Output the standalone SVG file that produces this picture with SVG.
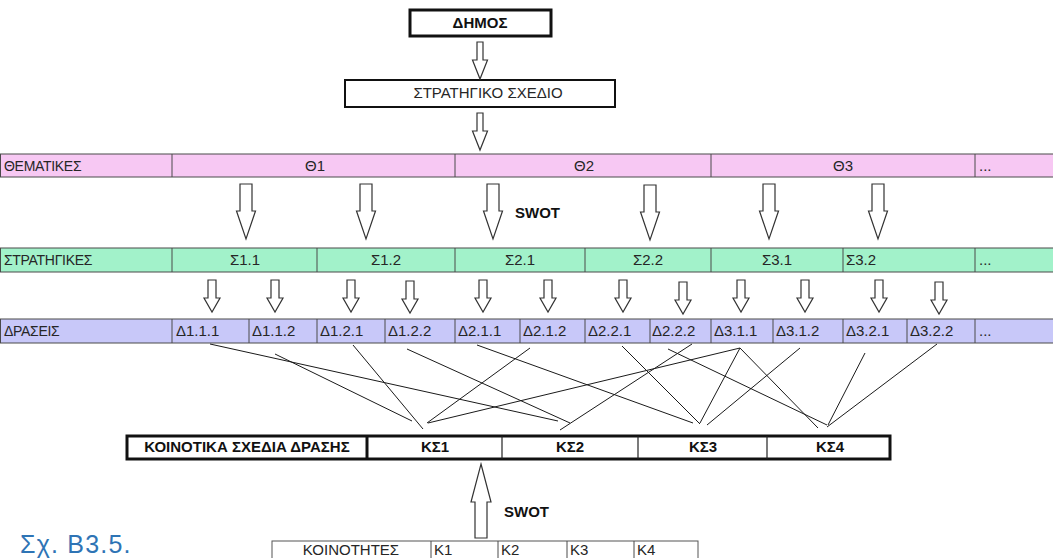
<svg xmlns="http://www.w3.org/2000/svg" xmlns:xlink="http://www.w3.org/1999/xlink" width="1053" height="558" viewBox="0 0 1053 558">
<style>
.t{font-family:"Liberation Sans",Arial,sans-serif;font-size:15px;fill:#262626}
.h{font-size:14px;letter-spacing:-0.3px}
.b{font-weight:bold;fill:#111}
.m{text-anchor:middle}
.cell{stroke:#4a4a4a;stroke-width:1}
.thk{fill:#fff;stroke:#111;stroke-width:3}
.arr{fill:#fff;stroke:#333;stroke-width:1.2;stroke-linejoin:miter}
.ln{stroke:#1a1a1a;stroke-width:1;fill:none}
.dv{stroke:#4a4a4a;stroke-width:1}
</style>
<defs>
<path id="big" d="M-6,0H6V27H9.5L0,55L-9.5,27H-6Z"/>
<path id="small" d="M-4,0H4V18H8L0,32L-8,18H-4Z"/>
<path id="topa" d="M-3,0H3V18H7.5L0,37L-7.5,18H-3Z"/>
<path id="up" d="M0,0L10,38H6V74H-6V38H-10Z"/>
</defs>
<rect width="1053" height="558" fill="#fff"/>

<g id="dimos">
<rect class="thk" x="410" y="10" width="141" height="26"/>
<text class="t b m" x="480" y="28" font-size="14">ΔΗΜΟΣ</text>
</g>

<g id="strategiko-schedio">
<rect x="345" y="80" width="270" height="27" fill="#fff" stroke="#111" stroke-width="2"/>
<text class="t m" x="488" y="98" font-size="12.5">ΣΤΡΑΤΗΓΙΚΟ ΣΧΕΔΙΟ</text>
</g>

<g id="thematikes">
<rect class="cell" x="0.5" y="154" width="1070" height="23" fill="#f7c8f3"/>
<line class="dv" x1="172" y1="154" x2="172" y2="177"/>
<line class="dv" x1="455" y1="154" x2="455" y2="177"/>
<line class="dv" x1="711" y1="154" x2="711" y2="177"/>
<line class="dv" x1="975" y1="154" x2="975" y2="177"/>
<text class="t h" x="4" y="171">ΘΕΜΑΤΙΚΕΣ</text>
<text class="t m" x="315" y="171">Θ1</text>
<text class="t m" x="584" y="171">Θ2</text>
<text class="t m" x="843" y="171">Θ3</text>
<text class="t" x="979" y="171">...</text>
</g>

<g id="stratigikes">
<rect class="cell" x="0.5" y="248" width="1070" height="24" fill="#a2f2ca"/>
<line class="dv" x1="172" y1="248" x2="172" y2="272"/>
<line class="dv" x1="317" y1="248" x2="317" y2="272"/>
<line class="dv" x1="455" y1="248" x2="455" y2="272"/>
<line class="dv" x1="585" y1="248" x2="585" y2="272"/>
<line class="dv" x1="711" y1="248" x2="711" y2="272"/>
<line class="dv" x1="843" y1="248" x2="843" y2="272"/>
<line class="dv" x1="975" y1="248" x2="975" y2="272"/>
<text class="t h" x="4" y="265">ΣΤΡΑΤΗΓΙΚΕΣ</text>
<text class="t m" x="245" y="265">Σ1.1</text>
<text class="t m" x="386" y="265">Σ1.2</text>
<text class="t m" x="520" y="265">Σ2.1</text>
<text class="t m" x="648" y="265">Σ2.2</text>
<text class="t m" x="777" y="265">Σ3.1</text>
<text class="t" x="846" y="265">Σ3.2</text>
<text class="t" x="979" y="265">...</text>
</g>

<g id="draseis">
<rect class="cell" x="0.5" y="319" width="1070" height="24" fill="#c8c8f9"/>
<line class="dv" x1="172" y1="319" x2="172" y2="343"/>
<line class="dv" x1="249" y1="319" x2="249" y2="343"/>
<line class="dv" x1="317" y1="319" x2="317" y2="343"/>
<line class="dv" x1="385" y1="319" x2="385" y2="343"/>
<line class="dv" x1="455" y1="319" x2="455" y2="343"/>
<line class="dv" x1="520" y1="319" x2="520" y2="343"/>
<line class="dv" x1="585" y1="319" x2="585" y2="343"/>
<line class="dv" x1="650" y1="319" x2="650" y2="343"/>
<line class="dv" x1="711" y1="319" x2="711" y2="343"/>
<line class="dv" x1="773" y1="319" x2="773" y2="343"/>
<line class="dv" x1="843" y1="319" x2="843" y2="343"/>
<line class="dv" x1="907" y1="319" x2="907" y2="343"/>
<line class="dv" x1="975" y1="319" x2="975" y2="343"/>
<text class="t h" x="4" y="336">ΔΡΑΣΕΙΣ</text>
<text class="t" x="176" y="336">Δ1.1.1</text>
<text class="t" x="252" y="336">Δ1.1.2</text>
<text class="t" x="320" y="336">Δ1.2.1</text>
<text class="t" x="388" y="336">Δ1.2.2</text>
<text class="t" x="458" y="336">Δ2.1.1</text>
<text class="t" x="523" y="336">Δ2.1.2</text>
<text class="t" x="588" y="336">Δ2.2.1</text>
<text class="t" x="652" y="336">Δ2.2.2</text>
<text class="t" x="714" y="336">Δ3.1.1</text>
<text class="t" x="776" y="336">Δ3.1.2</text>
<text class="t" x="846" y="336">Δ3.2.1</text>
<text class="t" x="910" y="336">Δ3.2.2</text>
<text class="t" x="979" y="336">...</text>
</g>

<g id="koinotika-schedia">
<rect class="thk" x="127" y="436" width="763" height="23"/>
<line x1="367" y1="436" x2="367" y2="459" stroke="#111" stroke-width="3"/>
<line x1="502" y1="436" x2="502" y2="459" stroke="#222" stroke-width="1.2"/>
<line x1="638" y1="436" x2="638" y2="459" stroke="#222" stroke-width="1.2"/>
<line x1="767" y1="436" x2="767" y2="459" stroke="#222" stroke-width="1.2"/>
<text class="t b m" x="247" y="452" font-size="13">ΚΟΙΝΟΤΙΚΑ ΣΧΕΔΙΑ ΔΡΑΣΗΣ</text>
<text class="t b m" x="435" y="452" font-size="13">ΚΣ1</text>
<text class="t b m" x="570" y="452" font-size="13">ΚΣ2</text>
<text class="t b m" x="703" y="452" font-size="13">ΚΣ3</text>
<text class="t b m" x="830" y="452" font-size="13">ΚΣ4</text>
</g>

<g id="koinotites">
<rect x="272" y="541" width="426" height="30" fill="#fff" stroke="#555" stroke-width="1"/>
<line class="dv" x1="431" y1="541" x2="431" y2="558"/>
<line class="dv" x1="498" y1="541" x2="498" y2="558"/>
<line class="dv" x1="567" y1="541" x2="567" y2="558"/>
<line class="dv" x1="634" y1="541" x2="634" y2="558"/>
<text class="t m" x="351" y="555" font-size="12">ΚΟΙΝΟΤΗΤΕΣ</text>
<text class="t" x="434" y="555" font-size="12">Κ1</text>
<text class="t" x="501" y="555" font-size="12">Κ2</text>
<text class="t" x="570" y="555" font-size="12">Κ3</text>
<text class="t" x="637" y="555" font-size="12">Κ4</text>
</g>

<g id="caption">
<text x="20" y="553" font-family="'Liberation Sans',Arial,sans-serif" font-size="25" letter-spacing="1.2" fill="#2e74b5">Σχ. Β3.5.</text>
</g>

<g id="connectors">
<use href="#topa" class="arr" x="480" y="42"/>
<use href="#topa" class="arr" x="480" y="113"/>
<use href="#big" class="arr" x="246" y="184"/>
<use href="#big" class="arr" x="366" y="184"/>
<use href="#big" class="arr" x="493" y="184"/>
<use href="#big" class="arr" x="650" y="185"/>
<use href="#big" class="arr" x="769" y="184"/>
<use href="#big" class="arr" x="878" y="184"/>
<use href="#small" class="arr" x="212" y="280"/>
<use href="#small" class="arr" x="275" y="280"/>
<use href="#small" class="arr" x="351" y="280"/>
<use href="#small" class="arr" x="410" y="281"/>
<use href="#small" class="arr" x="483" y="280"/>
<use href="#small" class="arr" x="548" y="280"/>
<use href="#small" class="arr" x="623" y="280"/>
<use href="#small" class="arr" x="683" y="282"/>
<use href="#small" class="arr" x="741" y="280"/>
<use href="#small" class="arr" x="805" y="280"/>
<use href="#small" class="arr" x="879" y="280"/>
<use href="#small" class="arr" x="939" y="282"/>
<use href="#up" class="arr" x="481" y="464"/>
<text class="t b" x="515" y="218" font-size="16.5">SWOT</text>
<text class="t b" x="504" y="517" font-size="14.5">SWOT</text>
<line class="ln" x1="210" y1="344" x2="558" y2="421"/>
<line class="ln" x1="275" y1="354" x2="412" y2="421"/>
<line class="ln" x1="353" y1="345" x2="423" y2="429"/>
<line class="ln" x1="407" y1="349" x2="570" y2="423"/>
<line class="ln" x1="477" y1="345" x2="693" y2="423"/>
<line class="ln" x1="530" y1="348" x2="427" y2="423"/>
<line class="ln" x1="622" y1="346" x2="700" y2="424"/>
<line class="ln" x1="692" y1="344" x2="560" y2="430"/>
<line class="ln" x1="668" y1="349" x2="827" y2="425"/>
<line class="ln" x1="740" y1="348" x2="428" y2="423"/>
<line class="ln" x1="740" y1="348" x2="700" y2="423"/>
<line class="ln" x1="740" y1="348" x2="818" y2="428"/>
<line class="ln" x1="800" y1="348" x2="707" y2="425"/>
<line class="ln" x1="865" y1="353" x2="828" y2="425"/>
<line class="ln" x1="937" y1="344" x2="827" y2="427"/>
</g>
</svg>
